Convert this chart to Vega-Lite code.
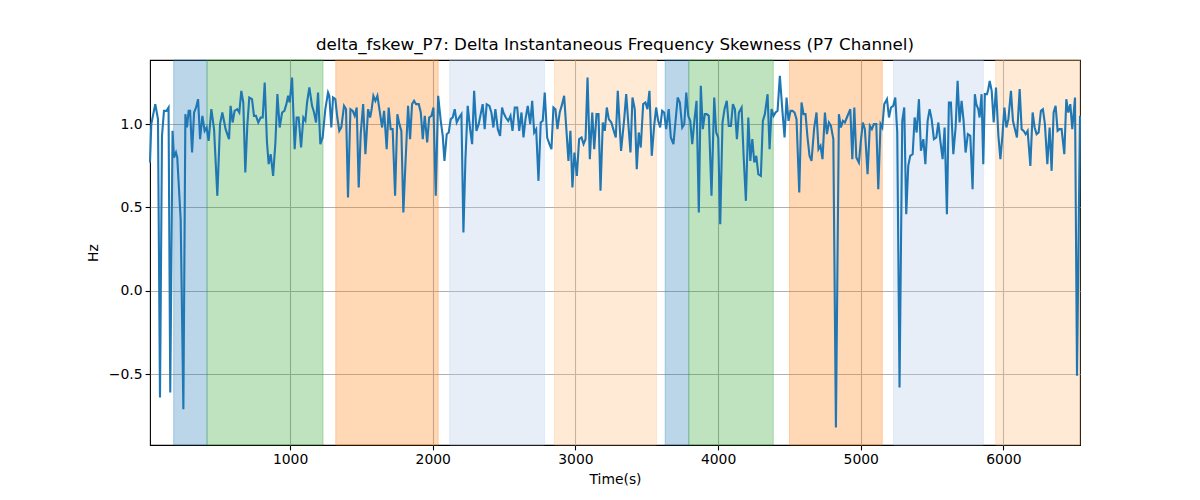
{
  "$schema": "https://vega.github.io/schema/vega-lite/v6.json",
  "width": 930,
  "height": 385,
  "autosize": {"type": "none"},
  "padding": {"left": 150, "top": 60, "right": 120, "bottom": 55},
  "background": "white",
  "title": {
    "text": "delta_fskew_P7: Delta Instantaneous Frequency Skewness (P7 Channel)",
    "font": "DejaVu Sans",
    "fontSize": 16.7,
    "fontWeight": "normal",
    "color": "black",
    "anchor": "middle",
    "offset": 6
  },
  "datasets": {
    "bands": [
      {"t": 184, "t2": 418, "kind": "blue"},
      {"t": 418, "t2": 1231, "kind": "green"},
      {"t": 1320, "t2": 2038, "kind": "orange"},
      {"t": 2119, "t2": 2783, "kind": "lightblue"},
      {"t": 2853, "t2": 3568, "kind": "lightorange"},
      {"t": 3629, "t2": 3795, "kind": "blue"},
      {"t": 3795, "t2": 4387, "kind": "green"},
      {"t": 4501, "t2": 5151, "kind": "orange"},
      {"t": 5230, "t2": 5859, "kind": "lightblue"},
      {"t": 5946, "t2": 6537, "kind": "lightorange"}
    ],
    "series": [
      {"t": 18, "v": 0.77}, {"t": 27, "v": 1.0}, {"t": 55, "v": 1.12}, {"t": 74, "v": 1.03},
      {"t": 88, "v": -0.64}, {"t": 102, "v": 0.93}, {"t": 116, "v": 1.08}, {"t": 134, "v": 1.08},
      {"t": 148, "v": 1.1}, {"t": 160, "v": -0.61}, {"t": 176, "v": 0.96}, {"t": 186, "v": 0.8},
      {"t": 200, "v": 0.83}, {"t": 209, "v": 0.8}, {"t": 233, "v": 0.43}, {"t": 252, "v": -0.71},
      {"t": 266, "v": 1.06}, {"t": 277, "v": 0.98}, {"t": 289, "v": 1.08}, {"t": 299, "v": 1.08},
      {"t": 313, "v": 0.83}, {"t": 327, "v": 1.07}, {"t": 341, "v": 1.1}, {"t": 355, "v": 1.15},
      {"t": 369, "v": 0.91}, {"t": 385, "v": 1.05}, {"t": 401, "v": 0.96}, {"t": 415, "v": 0.98},
      {"t": 429, "v": 0.9}, {"t": 448, "v": 1.09}, {"t": 467, "v": 0.97}, {"t": 490, "v": 0.57},
      {"t": 509, "v": 1.0}, {"t": 525, "v": 1.07}, {"t": 548, "v": 0.97}, {"t": 572, "v": 0.91},
      {"t": 583, "v": 1.11}, {"t": 597, "v": 1.01}, {"t": 611, "v": 1.08}, {"t": 630, "v": 1.09},
      {"t": 644, "v": 1.07}, {"t": 658, "v": 1.2}, {"t": 672, "v": 1.13}, {"t": 686, "v": 0.71},
      {"t": 700, "v": 0.99}, {"t": 714, "v": 1.16}, {"t": 733, "v": 1.15}, {"t": 747, "v": 1.05},
      {"t": 761, "v": 1.05}, {"t": 777, "v": 1.01}, {"t": 794, "v": 1.04}, {"t": 808, "v": 1.04},
      {"t": 822, "v": 1.25}, {"t": 838, "v": 0.89}, {"t": 850, "v": 0.76}, {"t": 864, "v": 0.82},
      {"t": 881, "v": 0.69}, {"t": 897, "v": 0.89}, {"t": 911, "v": 1.18}, {"t": 927, "v": 0.98},
      {"t": 944, "v": 1.07}, {"t": 960, "v": 1.08}, {"t": 974, "v": 1.12}, {"t": 986, "v": 1.17},
      {"t": 997, "v": 1.13}, {"t": 1014, "v": 1.28}, {"t": 1032, "v": 0.85}, {"t": 1046, "v": 1.04},
      {"t": 1060, "v": 1.04}, {"t": 1077, "v": 0.86}, {"t": 1093, "v": 1.04}, {"t": 1107, "v": 1.02},
      {"t": 1119, "v": 1.13}, {"t": 1135, "v": 1.22}, {"t": 1154, "v": 1.11}, {"t": 1168, "v": 1.07},
      {"t": 1182, "v": 1.01}, {"t": 1196, "v": 1.19}, {"t": 1212, "v": 0.88}, {"t": 1228, "v": 0.92},
      {"t": 1247, "v": 1.09}, {"t": 1266, "v": 1.19}, {"t": 1275, "v": 1.17}, {"t": 1289, "v": 0.98},
      {"t": 1301, "v": 1.16}, {"t": 1317, "v": 1.15}, {"t": 1331, "v": 1.04}, {"t": 1345, "v": 0.96},
      {"t": 1359, "v": 0.98}, {"t": 1378, "v": 1.11}, {"t": 1392, "v": 1.09}, {"t": 1406, "v": 0.56},
      {"t": 1423, "v": 1.09}, {"t": 1439, "v": 1.08}, {"t": 1453, "v": 1.05}, {"t": 1467, "v": 1.1},
      {"t": 1481, "v": 0.62}, {"t": 1495, "v": 0.94}, {"t": 1512, "v": 1.12}, {"t": 1528, "v": 0.82},
      {"t": 1547, "v": 1.09}, {"t": 1561, "v": 1.04}, {"t": 1570, "v": 1.08}, {"t": 1584, "v": 1.17},
      {"t": 1598, "v": 1.14}, {"t": 1612, "v": 1.17}, {"t": 1626, "v": 1.09}, {"t": 1645, "v": 0.98},
      {"t": 1659, "v": 1.08}, {"t": 1677, "v": 0.85}, {"t": 1691, "v": 1.1}, {"t": 1705, "v": 0.97},
      {"t": 1719, "v": 0.97}, {"t": 1736, "v": 0.57}, {"t": 1752, "v": 1.06}, {"t": 1766, "v": 1.0},
      {"t": 1780, "v": 0.96}, {"t": 1794, "v": 0.47}, {"t": 1810, "v": 0.79}, {"t": 1827, "v": 1.11},
      {"t": 1841, "v": 0.91}, {"t": 1855, "v": 1.12}, {"t": 1869, "v": 1.14}, {"t": 1883, "v": 1.12},
      {"t": 1902, "v": 1.12}, {"t": 1916, "v": 1.07}, {"t": 1930, "v": 0.91}, {"t": 1944, "v": 1.05},
      {"t": 1961, "v": 0.89}, {"t": 1975, "v": 1.04}, {"t": 1991, "v": 1.05}, {"t": 2005, "v": 1.1},
      {"t": 2021, "v": 0.57}, {"t": 2038, "v": 1.17}, {"t": 2056, "v": 1.02}, {"t": 2070, "v": 0.93},
      {"t": 2082, "v": 0.78}, {"t": 2098, "v": 0.94}, {"t": 2112, "v": 0.95}, {"t": 2126, "v": 1.03},
      {"t": 2140, "v": 1.04}, {"t": 2154, "v": 1.09}, {"t": 2168, "v": 1.01}, {"t": 2185, "v": 1.04},
      {"t": 2201, "v": 1.06}, {"t": 2215, "v": 0.35}, {"t": 2229, "v": 0.79}, {"t": 2245, "v": 1.11},
      {"t": 2262, "v": 0.97}, {"t": 2276, "v": 0.88}, {"t": 2290, "v": 1.2}, {"t": 2306, "v": 0.96},
      {"t": 2322, "v": 1.0}, {"t": 2336, "v": 1.06}, {"t": 2350, "v": 1.12}, {"t": 2364, "v": 0.97},
      {"t": 2378, "v": 1.12}, {"t": 2397, "v": 1.11}, {"t": 2411, "v": 1.07}, {"t": 2425, "v": 0.98},
      {"t": 2439, "v": 1.09}, {"t": 2456, "v": 0.97}, {"t": 2472, "v": 0.93}, {"t": 2486, "v": 1.1},
      {"t": 2495, "v": 1.07}, {"t": 2512, "v": 1.04}, {"t": 2529, "v": 1.02}, {"t": 2545, "v": 1.05},
      {"t": 2559, "v": 0.96}, {"t": 2575, "v": 1.1}, {"t": 2592, "v": 1.1}, {"t": 2606, "v": 0.96},
      {"t": 2622, "v": 1.07}, {"t": 2636, "v": 0.92}, {"t": 2650, "v": 1.03}, {"t": 2666, "v": 1.11},
      {"t": 2683, "v": 1.0}, {"t": 2697, "v": 1.14}, {"t": 2711, "v": 0.95}, {"t": 2725, "v": 0.97},
      {"t": 2741, "v": 0.66}, {"t": 2757, "v": 1.01}, {"t": 2771, "v": 1.02}, {"t": 2785, "v": 1.19},
      {"t": 2802, "v": 0.92}, {"t": 2818, "v": 0.88}, {"t": 2832, "v": 0.85}, {"t": 2846, "v": 1.1},
      {"t": 2860, "v": 1.09}, {"t": 2874, "v": 0.97}, {"t": 2890, "v": 1.07}, {"t": 2907, "v": 1.12},
      {"t": 2921, "v": 1.17}, {"t": 2935, "v": 0.99}, {"t": 2951, "v": 0.78}, {"t": 2965, "v": 0.96},
      {"t": 2979, "v": 0.62}, {"t": 2993, "v": 0.83}, {"t": 3010, "v": 0.69}, {"t": 3026, "v": 0.91},
      {"t": 3043, "v": 0.92}, {"t": 3057, "v": 0.88}, {"t": 3071, "v": 0.91}, {"t": 3085, "v": 1.28},
      {"t": 3101, "v": 0.79}, {"t": 3118, "v": 1.07}, {"t": 3132, "v": 0.85}, {"t": 3148, "v": 1.06},
      {"t": 3162, "v": 1.06}, {"t": 3176, "v": 0.6}, {"t": 3192, "v": 1.01}, {"t": 3206, "v": 0.96},
      {"t": 3220, "v": 1.1}, {"t": 3234, "v": 1.03}, {"t": 3252, "v": 1.01}, {"t": 3269, "v": 0.96},
      {"t": 3283, "v": 0.92}, {"t": 3297, "v": 1.2}, {"t": 3320, "v": 0.84}, {"t": 3342, "v": 1.03},
      {"t": 3356, "v": 1.18}, {"t": 3372, "v": 0.99}, {"t": 3386, "v": 0.83}, {"t": 3400, "v": 1.16},
      {"t": 3416, "v": 1.09}, {"t": 3430, "v": 0.73}, {"t": 3444, "v": 0.95}, {"t": 3458, "v": 0.86},
      {"t": 3475, "v": 1.12}, {"t": 3491, "v": 1.13}, {"t": 3505, "v": 1.09}, {"t": 3519, "v": 1.2},
      {"t": 3535, "v": 0.81}, {"t": 3552, "v": 0.99}, {"t": 3566, "v": 1.1}, {"t": 3580, "v": 1.02},
      {"t": 3594, "v": 0.98}, {"t": 3608, "v": 1.08}, {"t": 3622, "v": 1.07}, {"t": 3636, "v": 0.97},
      {"t": 3654, "v": 1.09}, {"t": 3669, "v": 0.92}, {"t": 3687, "v": 0.88}, {"t": 3701, "v": 1.01},
      {"t": 3717, "v": 1.16}, {"t": 3732, "v": 1.13}, {"t": 3749, "v": 0.98}, {"t": 3763, "v": 1.0},
      {"t": 3777, "v": 1.19}, {"t": 3791, "v": 1.05}, {"t": 3805, "v": 1.02}, {"t": 3819, "v": 0.88},
      {"t": 3835, "v": 1.03}, {"t": 3849, "v": 1.14}, {"t": 3865, "v": 0.47}, {"t": 3879, "v": 1.23},
      {"t": 3893, "v": 0.97}, {"t": 3907, "v": 1.06}, {"t": 3921, "v": 1.06}, {"t": 3935, "v": 1.05},
      {"t": 3954, "v": 0.57}, {"t": 3973, "v": 1.16}, {"t": 3987, "v": 0.95}, {"t": 4001, "v": 0.92},
      {"t": 4015, "v": 0.4}, {"t": 4031, "v": 1.01}, {"t": 4045, "v": 1.09}, {"t": 4061, "v": 1.14},
      {"t": 4075, "v": 0.99}, {"t": 4090, "v": 0.99}, {"t": 4104, "v": 1.12}, {"t": 4118, "v": 1.09},
      {"t": 4132, "v": 0.91}, {"t": 4146, "v": 1.07}, {"t": 4165, "v": 1.1}, {"t": 4179, "v": 0.81},
      {"t": 4195, "v": 0.54}, {"t": 4212, "v": 1.04}, {"t": 4226, "v": 0.78}, {"t": 4240, "v": 0.91},
      {"t": 4254, "v": 0.77}, {"t": 4268, "v": 0.81}, {"t": 4282, "v": 0.7}, {"t": 4300, "v": 0.69},
      {"t": 4314, "v": 1.02}, {"t": 4328, "v": 1.06}, {"t": 4347, "v": 1.18}, {"t": 4361, "v": 0.85},
      {"t": 4375, "v": 1.09}, {"t": 4389, "v": 1.05}, {"t": 4403, "v": 1.07}, {"t": 4417, "v": 1.08},
      {"t": 4433, "v": 1.29}, {"t": 4450, "v": 1.09}, {"t": 4466, "v": 0.92}, {"t": 4480, "v": 1.16},
      {"t": 4494, "v": 1.02}, {"t": 4508, "v": 1.08}, {"t": 4522, "v": 1.08}, {"t": 4536, "v": 1.07},
      {"t": 4550, "v": 1.03}, {"t": 4569, "v": 0.59}, {"t": 4585, "v": 1.13}, {"t": 4599, "v": 1.06},
      {"t": 4613, "v": 1.06}, {"t": 4627, "v": 0.92}, {"t": 4641, "v": 0.81}, {"t": 4655, "v": 0.78},
      {"t": 4674, "v": 0.98}, {"t": 4690, "v": 1.07}, {"t": 4704, "v": 0.85}, {"t": 4718, "v": 0.87},
      {"t": 4732, "v": 0.79}, {"t": 4749, "v": 1.07}, {"t": 4763, "v": 0.94}, {"t": 4777, "v": 1.01},
      {"t": 4791, "v": 0.99}, {"t": 4808, "v": 0.91}, {"t": 4826, "v": -0.82}, {"t": 4847, "v": 1.06},
      {"t": 4861, "v": 0.98}, {"t": 4875, "v": 1.02}, {"t": 4889, "v": 1.01}, {"t": 4903, "v": 1.04},
      {"t": 4927, "v": 1.09}, {"t": 4941, "v": 0.79}, {"t": 4955, "v": 1.1}, {"t": 4969, "v": 0.8},
      {"t": 4987, "v": 0.77}, {"t": 5001, "v": 0.9}, {"t": 5015, "v": 1.01}, {"t": 5029, "v": 0.97},
      {"t": 5048, "v": 0.7}, {"t": 5064, "v": 0.99}, {"t": 5078, "v": 0.97}, {"t": 5092, "v": 1.0},
      {"t": 5109, "v": 1.0}, {"t": 5123, "v": 0.61}, {"t": 5139, "v": 1.0}, {"t": 5151, "v": 0.98},
      {"t": 5165, "v": 1.12}, {"t": 5184, "v": 1.15}, {"t": 5198, "v": 1.04}, {"t": 5212, "v": 1.1},
      {"t": 5228, "v": 1.11}, {"t": 5242, "v": 1.16}, {"t": 5256, "v": 0.95}, {"t": 5272, "v": -0.58},
      {"t": 5291, "v": 1.02}, {"t": 5305, "v": 1.1}, {"t": 5319, "v": 0.46}, {"t": 5333, "v": 0.75},
      {"t": 5347, "v": 0.81}, {"t": 5364, "v": 0.82}, {"t": 5378, "v": 1.04}, {"t": 5392, "v": 0.95},
      {"t": 5408, "v": 1.15}, {"t": 5422, "v": 0.84}, {"t": 5439, "v": 0.91}, {"t": 5453, "v": 0.76},
      {"t": 5469, "v": 1.02}, {"t": 5483, "v": 1.09}, {"t": 5497, "v": 1.03}, {"t": 5513, "v": 0.91},
      {"t": 5530, "v": 0.92}, {"t": 5544, "v": 1.01}, {"t": 5558, "v": 0.9}, {"t": 5574, "v": 0.79},
      {"t": 5588, "v": 0.98}, {"t": 5604, "v": 0.46}, {"t": 5618, "v": 1.13}, {"t": 5632, "v": 1.13},
      {"t": 5649, "v": 0.82}, {"t": 5665, "v": 0.98}, {"t": 5679, "v": 1.26}, {"t": 5693, "v": 1.01},
      {"t": 5707, "v": 1.14}, {"t": 5721, "v": 1.02}, {"t": 5735, "v": 0.83}, {"t": 5751, "v": 0.94},
      {"t": 5768, "v": 0.93}, {"t": 5784, "v": 0.61}, {"t": 5800, "v": 1.18}, {"t": 5810, "v": 1.12},
      {"t": 5824, "v": 1.09}, {"t": 5833, "v": 1.04}, {"t": 5847, "v": 1.18}, {"t": 5859, "v": 0.76},
      {"t": 5870, "v": 1.18}, {"t": 5885, "v": 1.18}, {"t": 5894, "v": 1.21}, {"t": 5904, "v": 1.26},
      {"t": 5918, "v": 1.2}, {"t": 5932, "v": 1.01}, {"t": 5948, "v": 1.22}, {"t": 5965, "v": 0.93},
      {"t": 5979, "v": 0.79}, {"t": 5993, "v": 0.93}, {"t": 6007, "v": 1.1}, {"t": 6021, "v": 0.98},
      {"t": 6035, "v": 1.03}, {"t": 6053, "v": 1.2}, {"t": 6067, "v": 1.02}, {"t": 6081, "v": 0.97},
      {"t": 6095, "v": 0.92}, {"t": 6114, "v": 1.21}, {"t": 6128, "v": 0.97}, {"t": 6142, "v": 0.96},
      {"t": 6156, "v": 0.94}, {"t": 6170, "v": 0.96}, {"t": 6189, "v": 0.75}, {"t": 6205, "v": 1.07},
      {"t": 6219, "v": 0.98}, {"t": 6233, "v": 0.94}, {"t": 6247, "v": 0.95}, {"t": 6263, "v": 1.08},
      {"t": 6277, "v": 1.09}, {"t": 6291, "v": 1.0}, {"t": 6308, "v": 0.76}, {"t": 6324, "v": 0.98},
      {"t": 6338, "v": 0.72}, {"t": 6352, "v": 1.07}, {"t": 6366, "v": 1.11}, {"t": 6380, "v": 0.96},
      {"t": 6394, "v": 0.97}, {"t": 6408, "v": 0.97}, {"t": 6427, "v": 0.82}, {"t": 6441, "v": 1.15},
      {"t": 6455, "v": 1.07}, {"t": 6469, "v": 1.12}, {"t": 6483, "v": 0.97}, {"t": 6502, "v": 1.16},
      {"t": 6516, "v": -0.51}, {"t": 6537, "v": 1.05}
    ]
  },
  "encoding": {
    "x": {
      "field": "t",
      "type": "quantitative",
      "title": "Time(s)",
      "scale": {"domain": [18, 6537], "nice": false, "zero": false},
      "axis": {"values": [1000, 2000, 3000, 4000, 5000, 6000], "format": "d", "titlePadding": 6}
    }
  },
  "layer": [
    {
      "data": {"name": "bands"},
      "mark": {"type": "rect", "fillOpacity": 0.3, "strokeOpacity": 0.3, "strokeWidth": 1},
      "encoding": {
        "x2": {"field": "t2"},
        "fill": {
          "field": "kind",
          "type": "nominal",
          "legend": null,
          "scale": {
            "domain": ["blue", "green", "orange", "lightblue", "lightorange"],
            "range": ["#1f77b4", "#2ca02c", "#ff7f0e", "#aec7e8", "#ffbb78"]
          }
        },
        "stroke": {
          "field": "kind",
          "type": "nominal",
          "legend": null,
          "scale": {
            "domain": ["blue", "green", "orange", "lightblue", "lightorange"],
            "range": ["#1f77b4", "#2ca02c", "#ff7f0e", "#aec7e8", "#ffbb78"]
          }
        }
      }
    },
    {
      "data": {"name": "series"},
      "mark": {"type": "line", "color": "#1f77b4", "strokeWidth": 2.1},
      "encoding": {
        "y": {
          "field": "v",
          "type": "quantitative",
          "title": "Hz",
          "scale": {"domain": [-0.925, 1.385], "nice": false, "zero": false},
          "axis": {"values": [-0.5, 0, 0.5, 1.0], "format": ".1f", "titlePadding": 8}
        }
      }
    }
  ],
  "config": {
    "view": {"stroke": "black", "strokeWidth": 1.1},
    "axis": {
      "grid": true,
      "gridColor": "#b0b0b0",
      "gridWidth": 1.1,
      "domain": false,
      "ticks": true,
      "tickColor": "black",
      "tickSize": 4.9,
      "tickWidth": 1.1,
      "labelFont": "DejaVu Sans",
      "labelFontSize": 13.9,
      "labelColor": "black",
      "labelPadding": 3,
      "titleFont": "DejaVu Sans",
      "titleFontSize": 13.9,
      "titleFontWeight": "normal",
      "titleColor": "black",
      "zindex": 1
    }
  }
}
